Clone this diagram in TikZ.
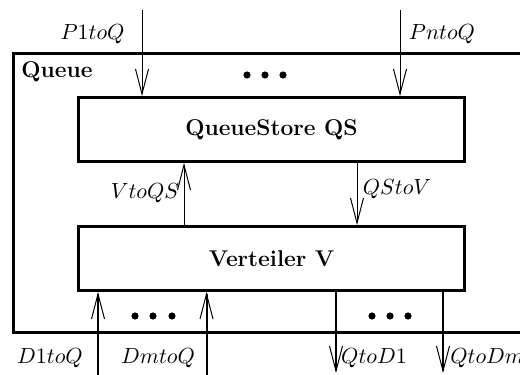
\documentclass[tikz,border=0pt]{standalone}
\usetikzlibrary{arrows.meta}
\begin{document}
\begin{tikzpicture}[x=0.5pt,y=-0.5pt,
  frame/.style={line width=1.5pt},
  comp/.style={draw,line width=1.5pt,minimum width=193pt,minimum height=32pt,
    inner sep=0pt,font=\fontsize{11.4}{13}\selectfont\bfseries},
  vee/.style={-{Straight Barb[length=12.5pt,width=6.5pt,line width=0.5pt 0]}},
  thin arrow/.style={vee,line width=0.5pt},
  thick arrow/.style={vee,line width=1pt},
  lbl/.style={inner sep=0pt,font=\fontsize{11}{13}\selectfont},
  dot/.style={fill,circle,inner sep=0pt,minimum size=3.6pt}]
  \clip (0,0) rectangle (520,375);

  % outer Queue frame (open to the right)
  \draw[frame] (560,53.5) -- (13,53.5) -- (13,332) -- (560,332);
  \node[inner sep=0pt,anchor=west,font=\fontsize{11.4}{13}\selectfont\bfseries] (qname) at (21,72) {Queue};

  % components
  \node[comp] (qs) at (271.5,129.5) {QueueStore QS};
  \node[comp] (v)  at (271.5,258.5) {Verteiler V};

  % producer inputs
  \coordinate (p1) at (142,10);
  \coordinate (pn) at (400,10);
  \draw[thin arrow] (p1) -- (p1 |- qs.north);
  \draw[thin arrow] (pn) -- (pn |- qs.north);
  \node[lbl] (lp1) at (92.5,34) {$P1toQ$};
  \node[lbl] (lpn) at (442,34) {$PntoQ$};

  % internal channels
  \coordinate (vq) at (184,0);
  \coordinate (qv) at (357,0);
  \draw[thin arrow] (vq |- v.north) -- (vq |- qs.south);
  \draw[thin arrow] (qv |- qs.south) -- (qv |- v.north);
  \node[lbl] (lvq) at (145,193) {$VtoQS$};
  \node[lbl] (lqv) at (397,189) {$QStoV$};

  % consumer channels
  \coordinate (d1) at (98,378);
  \coordinate (dm) at (206.5,378);
  \coordinate (o1) at (336,373);
  \coordinate (om) at (443,373);
  \draw[thick arrow] (d1) -- (d1 |- v.south);
  \draw[thick arrow] (dm) -- (dm |- v.south);
  \draw[thick arrow] (o1 |- v.south) -- (o1);
  \draw[thick arrow] (om |- v.south) -- (om);
  \node[lbl] (ld1) at (50,358) {$D1toQ$};
  \node[lbl] (ldm) at (158,358) {$DmtoQ$};
  \node[lbl] (lo1) at (374,358) {$QtoD1$};
  \node[lbl,anchor=west] (lom) at (450,358) {$QtoDm$};

  % ellipsis dots
  \foreach \x [count=\i] in {247,265,283} \node[dot] (ta\i) at (\x,75) {};
  \foreach \x [count=\i] in {135,153,172} \node[dot] (bl\i) at (\x,316) {};
  \foreach \x [count=\i] in {372,390,408} \node[dot] (br\i) at (\x,316) {};
\end{tikzpicture}
\end{document}
